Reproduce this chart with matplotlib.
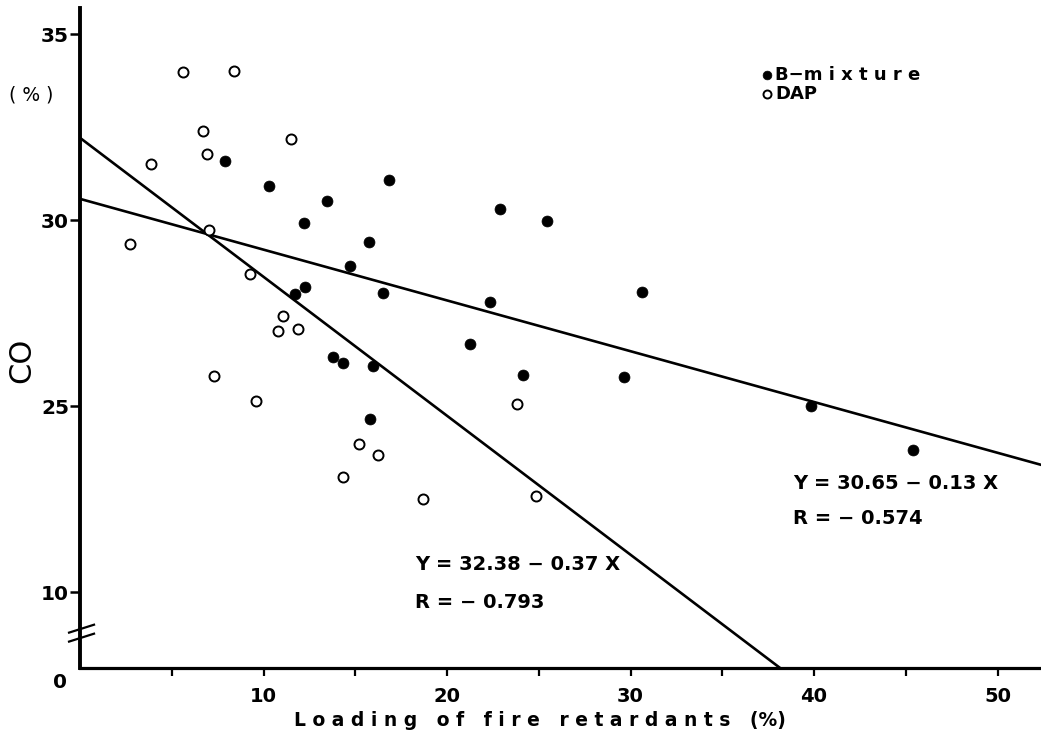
import matplotlib
matplotlib.use("Agg")
import matplotlib.pyplot as plt
import numpy as np

# ---- data (CO on the plotted, continuous part of the axis) ----
dap_x = [5.61, 8.39, 6.70, 11.50, 6.92, 3.87, 7.03, 2.72, 9.26, 11.06,
         10.79, 11.88, 7.30, 9.59, 23.81, 15.20, 16.24, 14.33, 18.69, 24.85]
dap_y = [33.99, 34.02, 32.41, 32.19, 31.79, 31.52, 29.74, 29.37, 28.56, 27.43,
         27.03, 27.08, 25.82, 25.15, 25.07, 23.99, 23.70, 23.10, 22.51, 22.59]

bmix_x = [7.90, 10.30, 13.46, 12.21, 16.84, 22.89, 25.45, 15.75, 14.71, 16.51,
          22.34, 30.63, 21.25, 13.79, 14.33, 15.97, 24.14, 29.65, 15.80, 11.72,
          12.26, 39.84, 45.40]
bmix_y = [31.60, 30.93, 30.52, 29.93, 31.09, 30.31, 29.99, 29.42, 28.78, 28.05,
          27.81, 28.08, 26.68, 26.33, 26.17, 26.09, 25.85, 25.79, 24.66, 28.02,
          28.21, 25.01, 23.83]

# regression lines as drawn (intercept, slope)
line_intercepts = [30.58, 32.22]
line_slopes = [-0.1365, -0.3735]

x_ticks = [10, 20, 30, 40, 50]
x_minor = [5, 15, 25, 35, 45]
y_tick_pos = [35, 30, 25, 20]
y_tick_labels = ["35", "30", "25", "10"]

eq_upper = ["Y = 30.65 − 0.13 X", "R = − 0.574"]
eq_lower = ["Y = 32.38 − 0.37 X", "R = − 0.793"]

# ---- figure ----
fig = plt.figure(figsize=(10.41, 7.40), dpi=100)
W, H = 1041, 740
ax = fig.add_axes([80 / W, (H - 668) / H, 961 / W, 660 / H])
ax.set_xlim(0, 52.37)
ax.set_ylim(17.97, 35.71)

for s in ["top", "right"]:
    ax.spines[s].set_visible(False)
ax.spines["left"].set_linewidth(2.8)
ax.spines["bottom"].set_linewidth(2.3)

bold = dict(family="DejaVu Sans", weight="bold")

ax.set_xticks(x_ticks)
ax.set_xticklabels([str(t) for t in x_ticks], fontsize=14, **bold)
ax.set_xticks(x_minor, minor=True)
ax.tick_params(axis="x", which="both", direction="out", length=6, width=1.6, pad=8)
ax.set_yticks(y_tick_pos)
ax.set_yticklabels(y_tick_labels, fontsize=14.5, **bold)
ax.tick_params(axis="y", direction="out", length=7, width=1.8, pad=1)

# points
h_b = ax.scatter(bmix_x, bmix_y, s=62, c="black", edgecolors="black", linewidths=0.5, zorder=3)
h_d = ax.scatter(dap_x, dap_y, s=52, facecolors="white", edgecolors="black", linewidths=1.4, zorder=3)

# regression lines
xs = np.array([0.0, 52.37])
for a, b in zip(line_intercepts, line_slopes):
    ax.plot(xs, a + b * xs, color="black", lw=1.9, zorder=2)

# equation labels
ax.text(38.86, 22.94, eq_upper[0], fontsize=14, ha="left", va="center", **bold)
ax.text(38.86, 22.00, eq_upper[1], fontsize=14, ha="left", va="center", **bold)
ax.text(18.26, 20.74, eq_lower[0], fontsize=14, ha="left", va="center", **bold)
ax.text(18.26, 19.72, eq_lower[1], fontsize=14, ha="left", va="center", **bold)

# legend
leg = ax.legend([h_b, h_d], ["B−m i x t u r e", "DAP"], loc="upper left",
                bbox_to_anchor=(0.709, 0.912), frameon=False, handlelength=0.6,
                handletextpad=0.15, labelspacing=0.05, borderpad=0, borderaxespad=0,
                markerscale=0.8, prop=dict(family="DejaVu Sans", weight="bold", size=13))

# axis labels
fig.text(22 / W, 1 - 360 / H, "CO", rotation=90, fontsize=22, ha="center", va="center",
         family="DejaVu Sans")
fig.text(31 / W, 1 - 95 / H, "( % )", fontsize=13.5, ha="center", va="center",
         family="DejaVu Sans")
fig.text(540 / W, 1 - 720 / H, "L o a d i n g   o f   f i r e   r e t a r d a n t s   (%)",
         fontsize=13.5, ha="center", va="center", **bold)
fig.text(60 / W, 1 - 683 / H, "0", fontsize=14.5, ha="center", va="center", **bold)

# axis break mark
for dy in (0.0, 0.0136):
    ax.plot([-0.0114, 0.0146], [0.040 + dy, 0.052 + dy], transform=ax.transAxes,
            color="black", lw=1.6, clip_on=False, zorder=4)

fig.savefig("out.png", dpi=100)
